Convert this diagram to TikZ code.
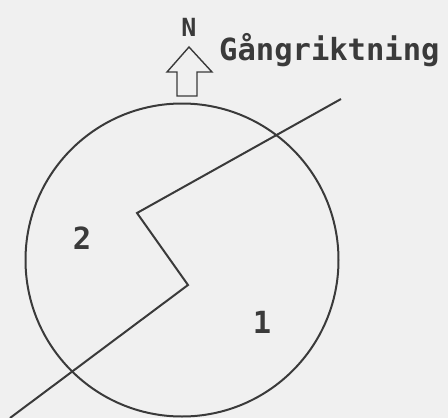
\documentclass[tikz,border=0pt]{standalone}
\usepackage{fontspec}
\usepackage{tikz}
\usepackage{xcolor}
\setmonofont{DejaVu Sans Mono}
\usetikzlibrary{positioning}
\definecolor{gkink}{RGB}{58,58,58}
\definecolor{gkpaper}{RGB}{240,240,240}
\tikzset{
  gkline/.style={draw=gkink, line width=2pt, line join=miter},
  gkring/.style={draw=gkink, line width=2pt, circle, minimum size=313pt, inner sep=0pt},
  gklab/.style={text=gkink, font=\ttfamily\bfseries\fontsize{30.5}{30.5}\selectfont, inner sep=0pt},
  gkmark/.style={text=gkink, font=\ttfamily\bfseries\fontsize{25}{25}\selectfont, inner sep=0pt}
}

\begin{document}
\begin{tikzpicture}[x=1pt, y=-1pt]
  \fill[gkpaper] (0,0) rectangle (448,418);
  \useasboundingbox (0,0) rectangle (448,418);
  % area circle
  \node[gkring] (ring) at (182,260) {};
  % north arrow
  \draw[gkline, line width=1.4pt] (189,47) -- (212,72) -- (197,72) -- (197,96)
    -- (177,96) -- (177,72) -- (167,72) -- cycle;
  \node[gkmark, anchor=base] (north) at (189,36) {N};
  \node[gklab, anchor=base west] (walk) at (219,60) {Gångriktning};
  % walking route
  \coordinate (start) at (10,418);
  \coordinate (bendb) at (188,285);
  \coordinate (benda) at (137,213);
  \coordinate (stop) at (341,99);
  \draw[gkline] (start) -- (bendb) -- (benda) -- (stop);
  \node[gklab] (two) at (82,238) {2};
  \node[gklab] (one) at (262,322) {1};
\end{tikzpicture}
\end{document}
